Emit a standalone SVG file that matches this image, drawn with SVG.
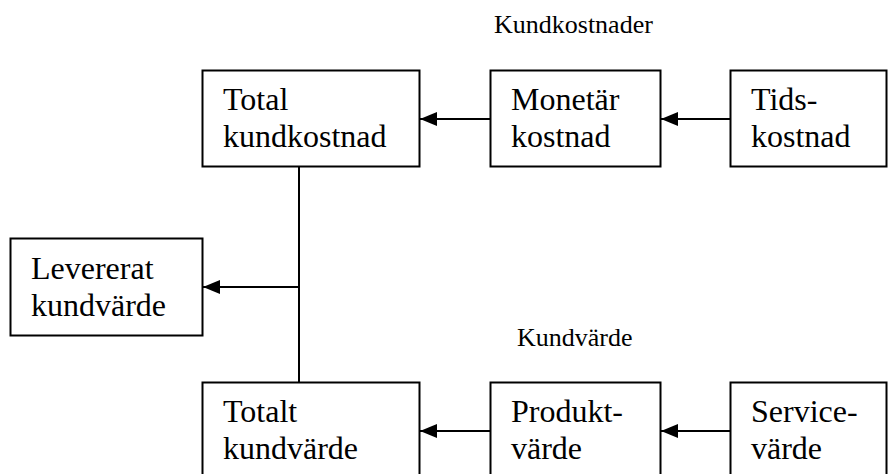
<svg xmlns="http://www.w3.org/2000/svg" width="889" height="474" viewBox="0 0 889 474">
  <style>
    .box { fill: #ffffff; stroke: #000000; stroke-width: 2; }
    .txt { font-family: "Liberation Serif", "Times New Roman", serif; font-size: 32px; fill: #000000; }
    .lbl { font-family: "Liberation Serif", "Times New Roman", serif; font-size: 26px; fill: #000000; }
    .wire { fill: none; stroke: #000000; stroke-width: 2; }
  </style>
  <defs>
    <marker id="head" viewBox="0 0 17 14" refX="17" refY="7" markerWidth="17" markerHeight="14" markerUnits="userSpaceOnUse" orient="auto">
      <path d="M0,0 L17,7 L0,14 Z" fill="#000000"/>
    </marker>
  </defs>
  <rect width="889" height="474" fill="#ffffff"/>

  <text class="lbl" x="494" y="33">Kundkostnader</text>
  <text class="lbl" x="517" y="346">Kundvärde</text>

  <!-- connectors -->
  <g id="connectors">
    <line class="wire" x1="730" y1="119" x2="661" y2="119" marker-end="url(#head)"/>
    <line class="wire" x1="490" y1="119" x2="420" y2="119" marker-end="url(#head)"/>
    <line class="wire" x1="730" y1="431" x2="661" y2="431" marker-end="url(#head)"/>
    <line class="wire" x1="490" y1="431" x2="420" y2="431" marker-end="url(#head)"/>
    <line class="wire" x1="299" y1="167" x2="299" y2="382"/>
    <line class="wire" x1="299" y1="287" x2="203" y2="287" marker-end="url(#head)"/>
  </g>

  <g id="total-kundkostnad">
    <rect class="box" x="202.5" y="70.5" width="217" height="96"/>
    <text class="txt" x="223" y="110">Total</text>
    <text class="txt" x="223" y="147">kundkostnad</text>
  </g>
  <g id="monetar-kostnad">
    <rect class="box" x="490.5" y="70.5" width="170" height="96"/>
    <text class="txt" x="511" y="110">Monetär</text>
    <text class="txt" x="511" y="147">kostnad</text>
  </g>
  <g id="tidskostnad">
    <rect class="box" x="730.5" y="70.5" width="156" height="96"/>
    <text class="txt" x="751" y="110">Tids-</text>
    <text class="txt" x="751" y="147">kostnad</text>
  </g>
  <g id="levererat-kundvarde">
    <rect class="box" x="10.5" y="238.5" width="192" height="97"/>
    <text class="txt" x="31" y="279">Levererat</text>
    <text class="txt" x="31" y="316">kundvärde</text>
  </g>
  <g id="totalt-kundvarde">
    <rect class="box" x="202.5" y="382.5" width="217" height="100"/>
    <text class="txt" x="223" y="422">Totalt</text>
    <text class="txt" x="223" y="459">kundvärde</text>
  </g>
  <g id="produktvarde">
    <rect class="box" x="490.5" y="382.5" width="170" height="100"/>
    <text class="txt" x="511" y="422">Produkt-</text>
    <text class="txt" x="511" y="459">värde</text>
  </g>
  <g id="servicevarde">
    <rect class="box" x="730.5" y="382.5" width="156" height="100"/>
    <text class="txt" x="751" y="422">Service-</text>
    <text class="txt" x="751" y="459">värde</text>
  </g>
</svg>
